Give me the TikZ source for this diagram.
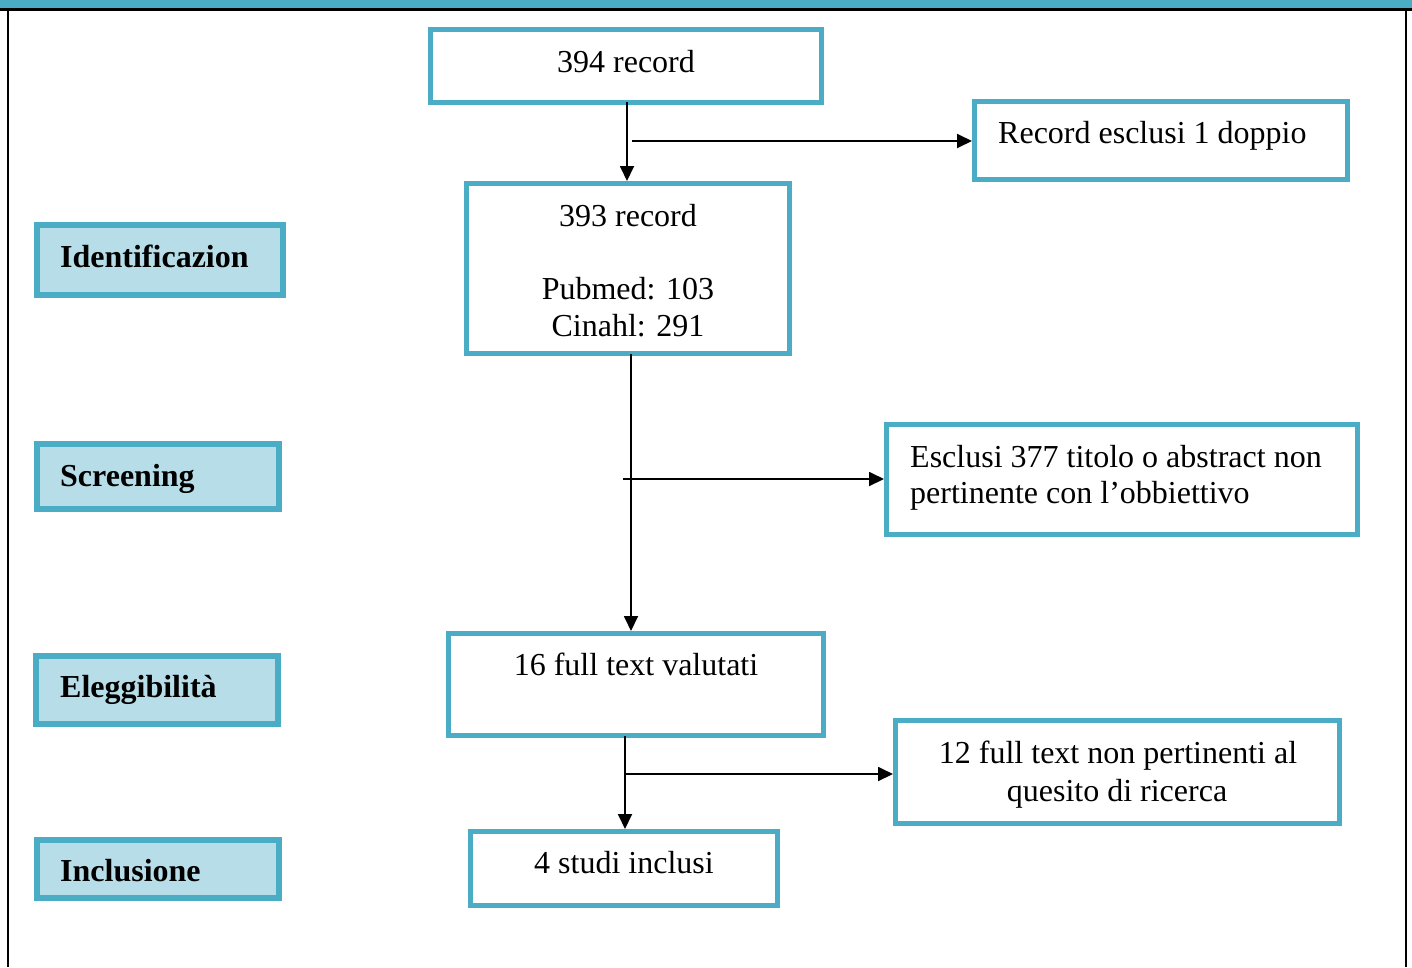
\documentclass[tikz,border=0pt]{standalone}
\usepackage{fontspec}
\setmainfont{Liberation Serif}
\usetikzlibrary{arrows.meta}
\definecolor{bord}{HTML}{4BACC6}
\definecolor{lfill}{HTML}{B7DEE8}
\tikzset{
  box/.style={draw=bord, line width=5pt, fill=white, inner sep=0pt},
  stage/.style={draw=bord, line width=6pt, fill=lfill, inner sep=0pt},
  txt/.style={inner sep=0pt, font=\fontsize{32}{36.5}\selectfont, anchor=base},
  stxt/.style={inner sep=0pt, font=\fontsize{32}{36.5}\selectfont\bfseries, anchor=base west},
  arr/.style={line width=1.8pt, -{Triangle[length=15pt,width=14pt]}},
}
\begin{document}
\begin{tikzpicture}[x=1pt,y=-1pt]
\useasboundingbox (0,0) rectangle (1412,967);
% frame
\fill[bord] (0,0) rectangle (1412,8);
\draw[line width=2.5pt] (0,9.5) -- (1412,9.5);
\draw[line width=2pt] (8,9) -- (8,967);
\draw[line width=2pt] (1406,9) -- (1406,967);
% boxes
\node[box, minimum width=391pt, minimum height=73pt] (b394) at (626,66) {};
\node[box, minimum width=373pt, minimum height=78pt] (brec) at (1161,140.5) {};
\node[box, minimum width=323pt, minimum height=170pt] (b393) at (628,268.5) {};
\node[box, minimum width=471pt, minimum height=110pt] (bexc) at (1122,479.5) {};
\node[box, minimum width=375pt, minimum height=102pt] (b16) at (636,684.5) {};
\node[box, minimum width=444pt, minimum height=103pt] (b12) at (1117.5,772) {};
\node[box, minimum width=307pt, minimum height=74pt] (b4) at (624,868.5) {};
% stage boxes
\node[stage, minimum width=246pt, minimum height=70pt] (sid) at (159.5,259.5) {};
\node[stage, minimum width=242pt, minimum height=65pt] (ssc) at (157.5,476) {};
\node[stage, minimum width=242pt, minimum height=68pt] (sel) at (156.5,689.5) {};
\node[stage, minimum width=242pt, minimum height=58pt] (sin) at (157.5,868.5) {};
% texts
\node[txt] (t394) at (626,72) {394 record};
\node[txt, anchor=base west] (trec) at (998,143) {Record esclusi 1 doppio};
\node[txt] (t393a) at (628,226) {393 record};
\node[txt] (t393b) at (628,299) {Pubmed: 103};
\node[txt] (t393c) at (628,336) {Cinahl: 291};
\node[txt, anchor=base west] (texa) at (910,467) {Esclusi 377 titolo o abstract non};
\node[txt, anchor=base west] (texb) at (910,503) {pertinente con l’obbiettivo};
\node[txt] (t16) at (636,675) {16 full text valutati};
\node[txt] (t12a) at (1118,763) {12 full text non pertinenti al};
\node[txt] (t12b) at (1117,801) {quesito di ricerca};
\node[txt] (t4) at (624,873) {4 studi inclusi};
\node[stxt] (lid) at (60,267) {Identificazion};
\node[stxt] (lsc) at (60,486) {Screening};
\node[stxt] (lel) at (60,697) {Eleggibilità};
\node[stxt] (lin) at (60,881) {Inclusione};
% connectors
\coordinate (v1) at (627,102);
\coordinate (h1) at (632,141);
\coordinate (v2) at (631,354);
\coordinate (h2) at (623,479);
\coordinate (v3) at (625,736);
\coordinate (h3) at (625,774);
\draw[arr] (v1) -- (v1 |- b393.north);
\draw[arr] (h1) -- (h1 -| brec.west);
\draw[arr] (v2) -- (v2 |- b16.north);
\draw[arr] (h2) -- (h2 -| bexc.west);
\draw[arr] (v3) -- (v3 |- b4.north);
\draw[arr] (h3) -- (h3 -| b12.west);
\end{tikzpicture}
\end{document}
